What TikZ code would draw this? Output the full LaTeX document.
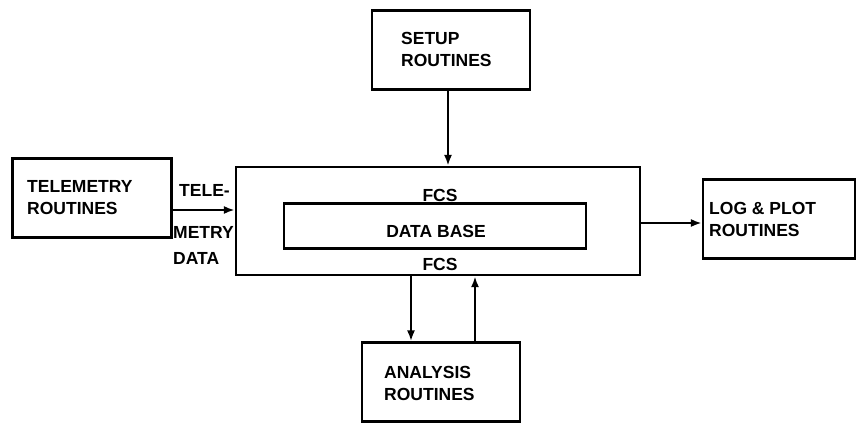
\documentclass[tikz,border=0pt]{standalone}
\usepackage{fontspec}
\setmainfont{Liberation Sans}
\usetikzlibrary{arrows.meta}
\begin{document}
\begin{tikzpicture}[x=1pt,y=-1pt,
  box/.style={draw,line width=2.2pt,inner sep=0pt},
  lbl/.style={font=\bfseries\fontsize{17.5}{22}\selectfont,inner sep=0pt,align=left},
  arr/.style={line width=2.2pt,-{Latex[length=11pt,width=8pt]}}]
\useasboundingbox (0,0) rectangle (858,426);
\node[box,minimum width=159pt,minimum height=79pt] (tel) at (92,198) {};
\node[box,minimum width=404pt,minimum height=108pt] (main) at (438,221) {};
\node[box,minimum width=302pt,minimum height=45pt] (db) at (435,226) {};
\node[box,minimum width=158pt,minimum height=79pt] (setup) at (451,50) {};
\node[box,minimum width=158pt,minimum height=79pt] (ana) at (441,382) {};
\node[box,minimum width=152pt,minimum height=79pt] (log) at (779,219) {};
\node[lbl,anchor=west] (telt) at (27,198) {TELEMETRY\\ROUTINES};
\node[lbl,anchor=west] (setupt) at (401,49) {SETUP\\ROUTINES};
\node[lbl,anchor=west] (anat) at (384,383) {ANALYSIS\\ROUTINES};
\node[lbl,anchor=west] (logt) at (709,219) {LOG \& PLOT\\ROUTINES};
\node[lbl] (fcs1) at (440,195) {FCS};
\node[lbl] (dbt) at (436,231) {DATA BASE};
\node[lbl] (fcs2) at (440,264) {FCS};
\node[lbl,anchor=west] (tele) at (179,190) {TELE-};
\node[lbl,anchor=west] (metry) at (173,232) {METRY};
\node[lbl,anchor=west] (data) at (173,258) {DATA};
\draw[arr] (tel.east |- 0,210) -- (main.west |- 0,210);
\draw[arr] (setup.south -| 448,0) -- (main.north -| 448,0);
\draw[arr] (main.south -| 411,0) -- (ana.north -| 411,0);
\draw[arr] (ana.north -| 475,0) -- (main.south -| 475,0);
\draw[arr] (main.east |- 0,223) -- (log.west |- 0,223);
\end{tikzpicture}
\end{document}
